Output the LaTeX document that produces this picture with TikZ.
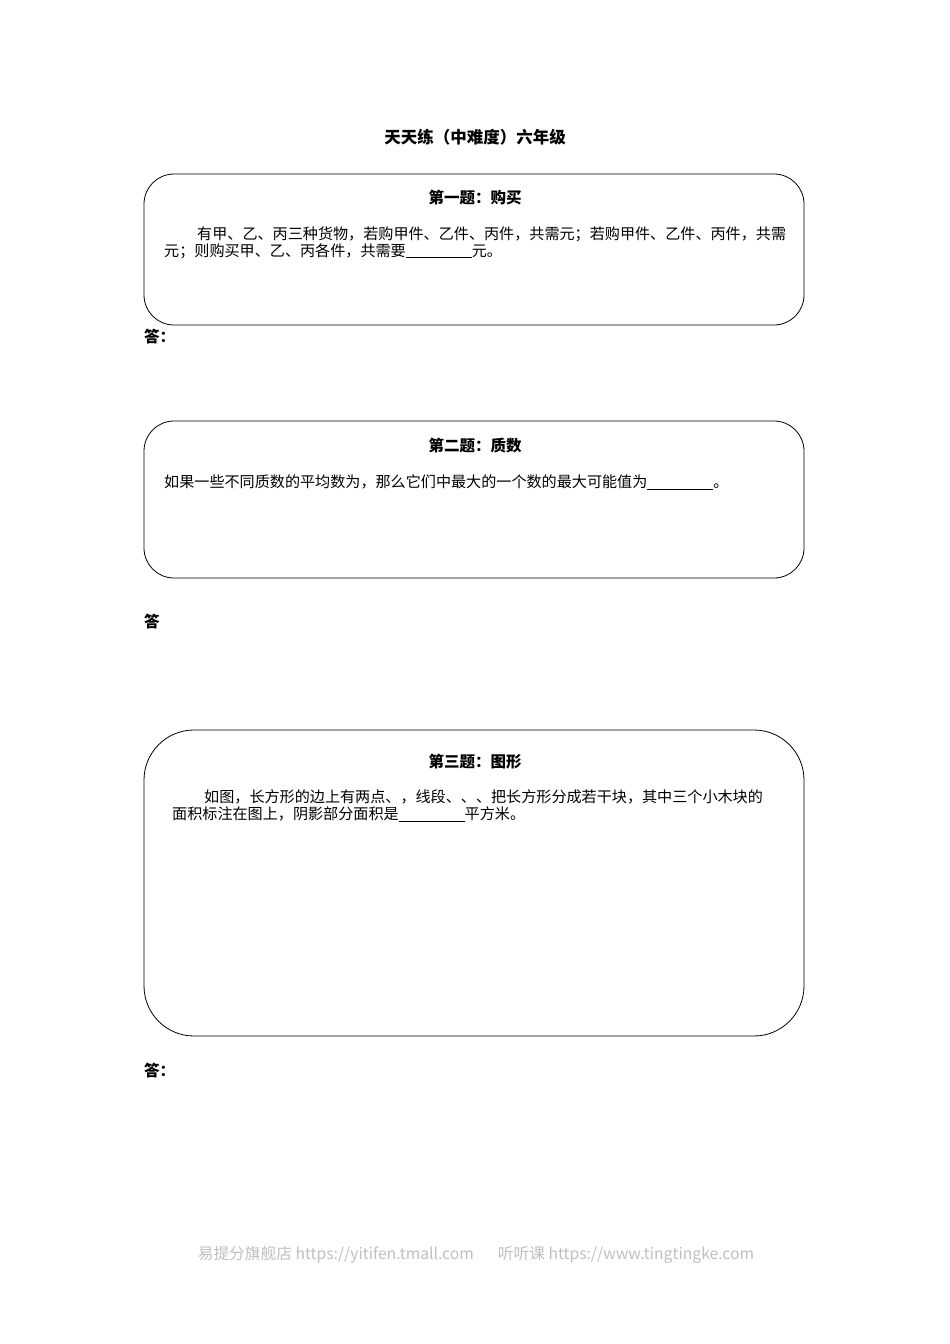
\documentclass[tikz,border=0pt]{standalone}
\usepackage{fontspec}
\newfontfamily\cjk{Noto Sans CJK SC}
\begin{document}
\begin{tikzpicture}[x=1pt,y=-1pt,
  qbox/.style={draw,line width=0.8pt,rounded corners=30pt},
  body/.style={anchor=west,inner sep=0,font=\cjk\fontsize{15.1}{17}\selectfont},
  bold/.style={inner sep=0,font=\cjk\bfseries\fontsize{15.5}{17}\selectfont}]
\useasboundingbox (0,0) rectangle (950,1344);
\node[bold,font=\cjk\bfseries\fontsize{16.5}{18}\selectfont] (title) at (475,137) {天天练（中难度）六年级};
% box 1
\draw[qbox] (144,174) rectangle (804,325);
\node[bold] (t1) at (475,198) {第一题：购买};
\node[body] (l11) at (197,234) {有甲、乙、丙三种货物，若购甲件、乙件、丙件，共需元；若购甲件、乙件、丙件，共需};
\node[body] (l12) at (164,251) {元；则购买甲、乙、丙各件，共需要\underline{\hspace{66pt}}元。};
\node[bold,anchor=west] (a1) at (144,337) {答：};
% box 2
\draw[qbox] (144,421) rectangle (804,578);
\node[bold] (t2) at (475,446) {第二题：质数};
\node[body] (l21) at (164,482) {如果一些不同质数的平均数为，那么它们中最大的一个数的最大可能值为\underline{\hspace{66pt}}。};
\node[bold,anchor=west] (a2) at (144,622) {答};
% box 3
\draw[qbox,rounded corners=50pt] (144,730) rectangle (804,1036);
\node[bold] (t3) at (475,762) {第三题：图形};
\node[body] (l31) at (204,797) {如图，长方形的边上有两点、，线段、、、把长方形分成若干块，其中三个小木块的};
\node[body] (l32) at (172,814) {面积标注在图上，阴影部分面积是\underline{\hspace{66pt}}平方米。};
\node[bold,anchor=west] (a3) at (144,1071) {答：};
% footer
\node[inner sep=0,text=black!25,font=\cjk\fontsize{15.7}{17}\selectfont] (foot) at (476,1255) {易提分旗舰店 https://yitifen.tmall.com\hspace{24pt}听听课 https://www.tingtingke.com};
\end{tikzpicture}
\end{document}
